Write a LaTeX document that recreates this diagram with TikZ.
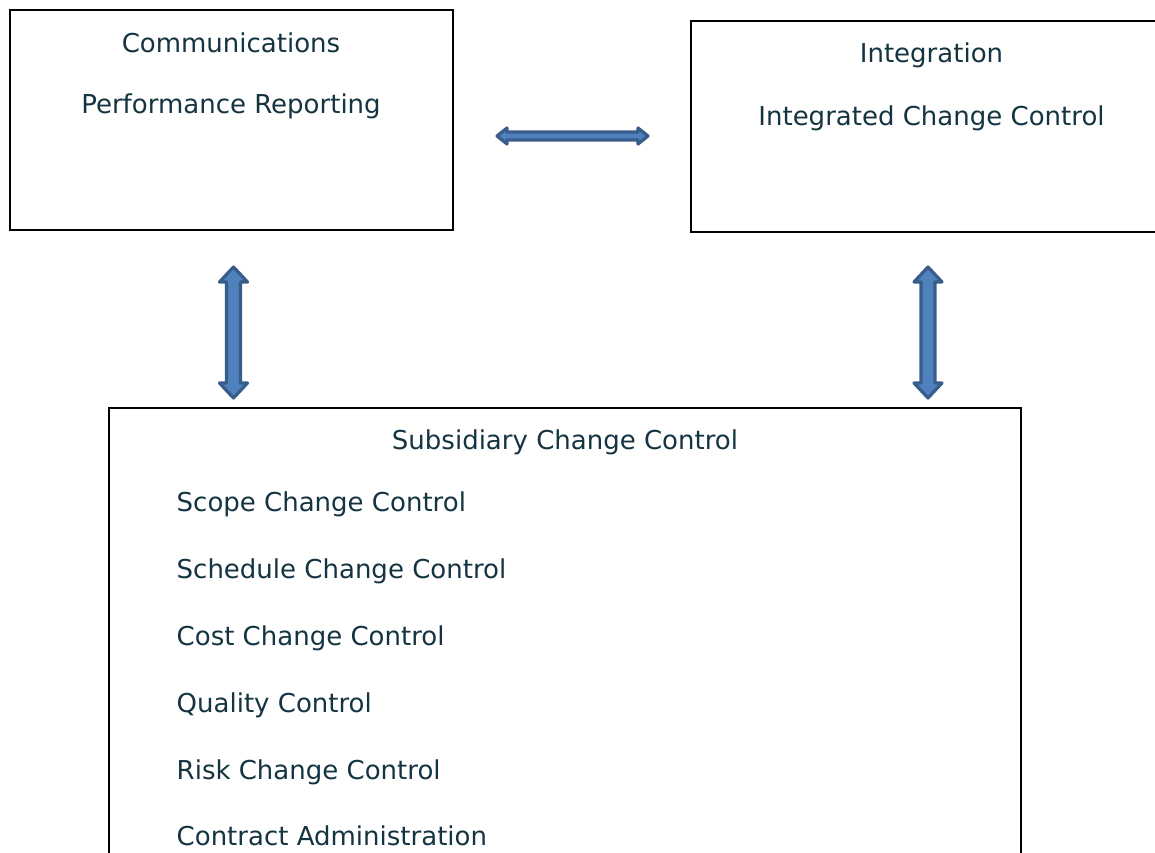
\documentclass[tikz,border=0pt]{standalone}
\usepackage{fontspec}
\setmainfont{DejaVu Sans}
\usetikzlibrary{calc}
\definecolor{txt}{HTML}{153442}
\definecolor{afill}{HTML}{4F81BD}
\definecolor{aline}{HTML}{385D8A}
\tikzset{
  box/.style={draw=black, line width=1.8pt, fill=white},
  lbl/.style={anchor=base, text=txt, font=\fontsize{26pt}{30pt}\selectfont, inner sep=0pt},
  item/.style={lbl, anchor=base west},
  barrow/.style={fill=afill, draw=aline, line width=3.2pt, line join=round}
}
\begin{document}
\begin{tikzpicture}[x=1pt,y=-1pt]
\useasboundingbox (0,0) rectangle (1155,852);
\clip (0,0) rectangle (1155,852);
% boxes
\draw[box] (10,10) rectangle (453,230);
\draw[box] (691,21) rectangle (1175,232);
\draw[box] (109,408) rectangle (1021,880);
% texts
\node[lbl] (t1) at (231,52) {Communications};
\node[lbl] (t2) at (231,113.5) {Performance Reporting};
\node[lbl] (t3) at (931.5,62) {Integration};
\node[lbl] (t4) at (931.5,125) {Integrated Change Control};
\node[lbl] (t5) at (565,449) {Subsidiary Change Control};
\node[item] (s1) at (176.5,511) {Scope Change Control};
\node[item] (s2) at (176.5,578) {Schedule Change Control};
\node[item] (s3) at (176.5,645) {Cost Change Control};
\node[item] (s4) at (176.5,712) {Quality Control};
\node[item] (s5) at (176.5,779) {Risk Change Control};
\node[item] (s6) at (176.5,845) {Contract Administration};
% arrow end points
\coordinate (hA) at (497,136);
\coordinate (hB) at (648,136);
\coordinate (vA1) at (233.5,267);
\coordinate (vB1) at (233.5,398);
\coordinate (vA2) at (928,267);
\coordinate (vB2) at (928,398);
% horizontal double arrow
\draw[barrow] (hA) -- ($(hA)+(10,-8)$) -- ($(hA)+(10,-4)$) -- ($(hB)+(-10,-4)$) -- ($(hB)+(-10,-8)$) -- (hB)
  -- ($(hB)+(-10,8)$) -- ($(hB)+(-10,4)$) -- ($(hA)+(10,4)$) -- ($(hA)+(10,8)$) -- cycle;
% vertical double arrows
\foreach \a/\b in {vA1/vB1, vA2/vB2}{
\draw[barrow] (\a) -- ($(\a)+(14,15)$) -- ($(\a)+(7,15)$) -- ($(\b)+(7,-15)$) -- ($(\b)+(14,-15)$) -- (\b)
  -- ($(\b)+(-14,-15)$) -- ($(\b)+(-7,-15)$) -- ($(\a)+(-7,15)$) -- ($(\a)+(-14,15)$) -- cycle;
}
\end{tikzpicture}
\end{document}
